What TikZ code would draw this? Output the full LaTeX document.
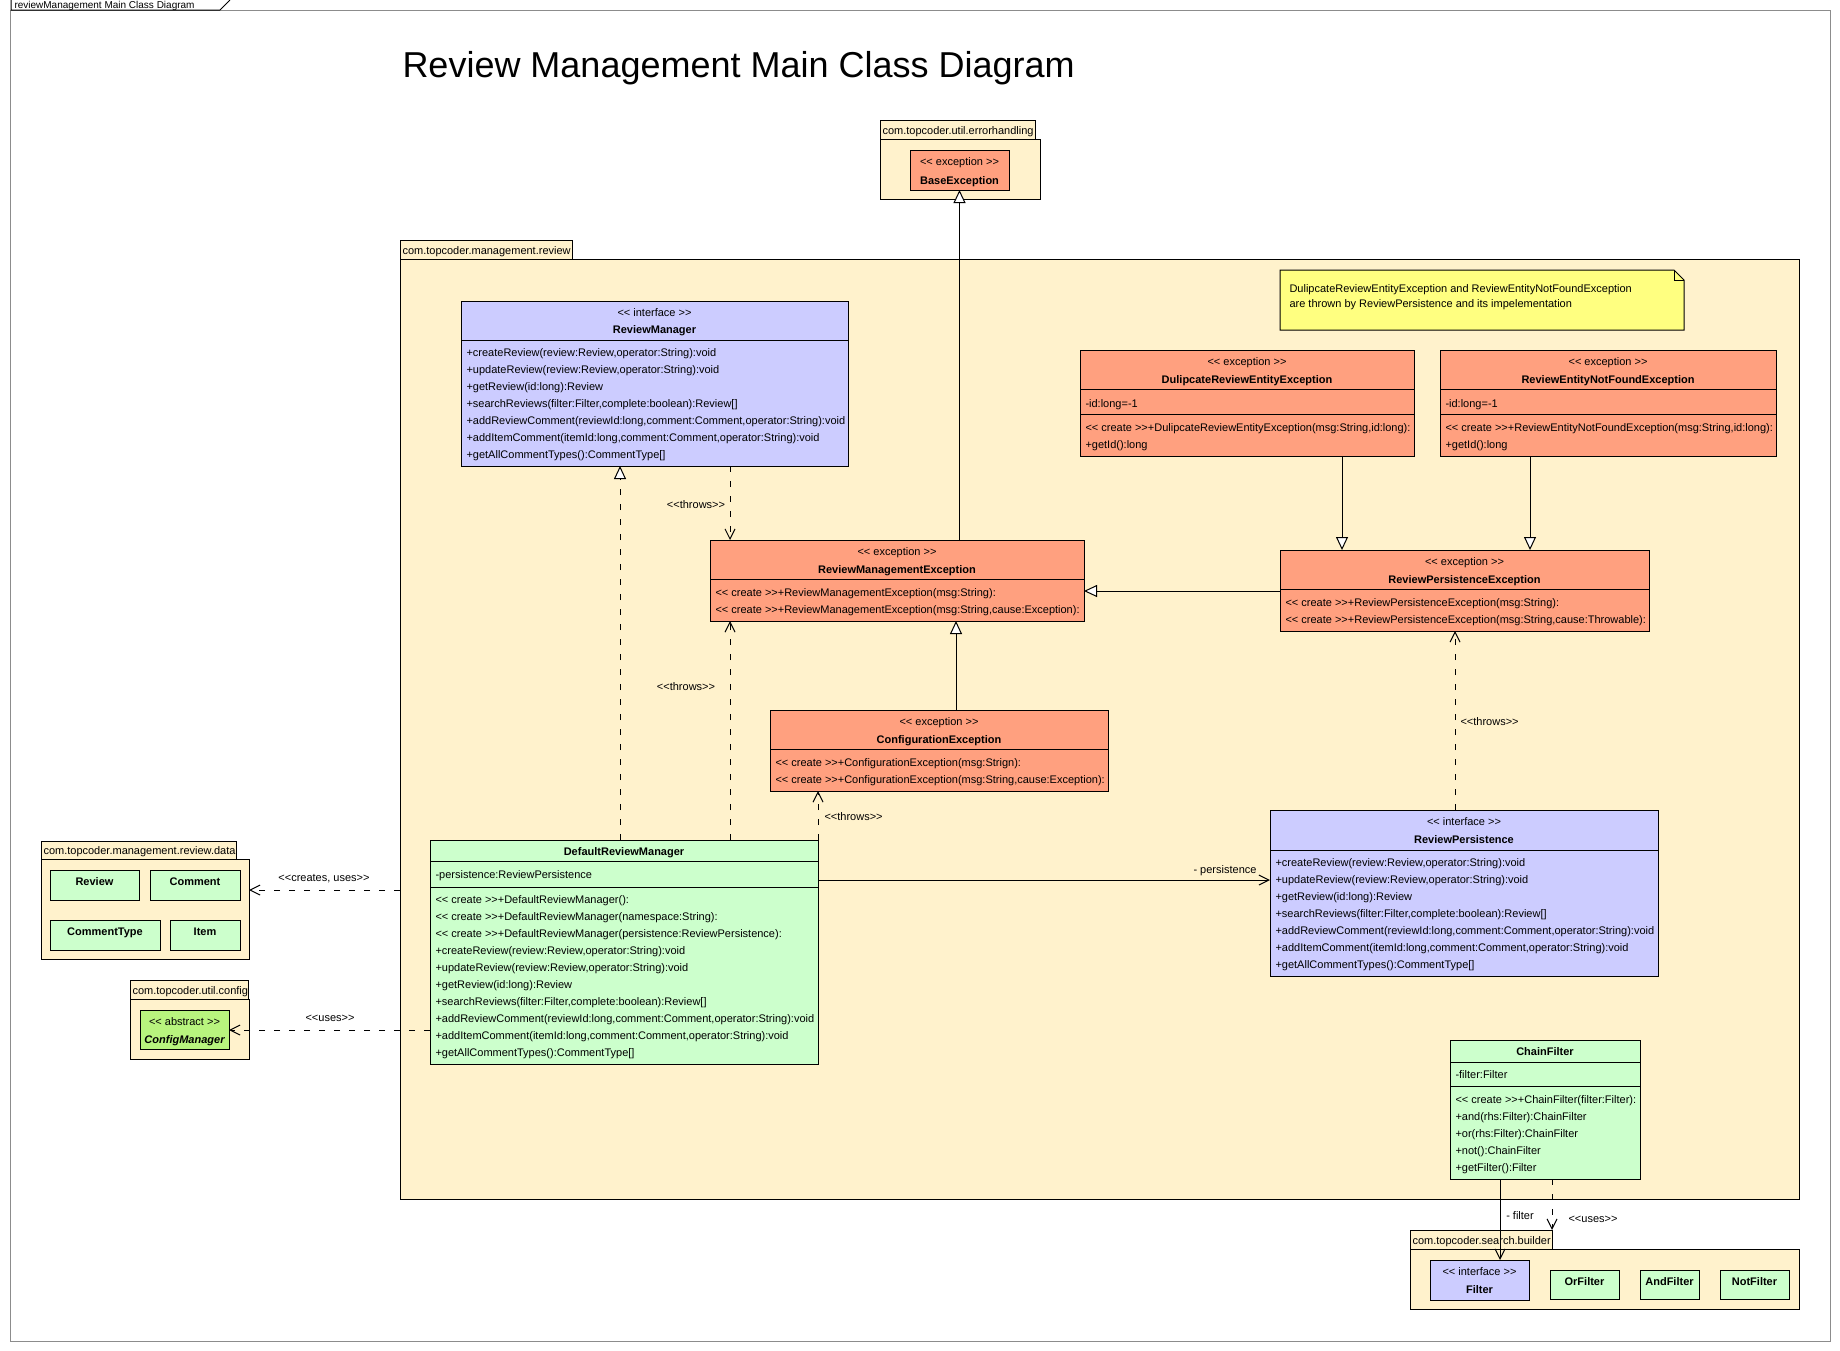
\documentclass[tikz,border=0pt]{standalone}
\usepackage{fontspec}
\setmainfont{Liberation Sans}
\usetikzlibrary{arrows.meta}
\definecolor{pkg}{HTML}{FFF2CC}
\definecolor{exc}{HTML}{FFA07F}
\definecolor{ifc}{HTML}{CCCCFF}
\definecolor{cls}{HTML}{CCFFCC}
\definecolor{absc}{HTML}{B8F47E}
\definecolor{notec}{HTML}{FFFF80}
\definecolor{frm}{HTML}{8C8C8C}
\newcommand\cf{\fontsize{8.25pt}{12.75pt}\selectfont}
\newcommand\stereo[1]{<\kern0pt<#1>\kern0pt>}
\newcommand\ubox[6]{\node[ubox, fill=#6, minimum width={(#4-#2)*0.75pt}, minimum height={(#5-#3)*0.75pt}] (#1) at (#2,#3) {};}
\newcommand\hdiv[3]{\draw (#1,#3) -- (#2,#3);}
\begin{document}
\begin{tikzpicture}[x=0.75pt,y=-0.75pt,line width=0.75pt,
  ubox/.style={draw=black, line width=0.75pt, inner sep=0pt, outer sep=0pt, anchor=north west},
  t/.style={font=\cf, inner sep=0pt, anchor=base},
  tb/.style={font=\cf\bfseries, inner sep=0pt, anchor=base},
  tl/.style={font=\cf, inner sep=0pt, anchor=base west},
  ops/.style={font=\cf, inner sep=0pt, anchor=north west, align=left},
  dashpat/.style={dash pattern=on 4.5pt off 6.75pt},
  gen/.style={-{Triangle[fill=white, length=9.75pt, width=9pt]}},
  real/.style={dashpat, gen},
  dep/.style={dashpat, -{Straight Barb[length=7.5pt, width=7.5pt]}},
  assoc/.style={-{Straight Barb[length=7.5pt, width=7.5pt]}},
  lbl/.style={font=\cf, inner sep=0pt, anchor=base}]
\useasboundingbox (0,0) rectangle (1840,1350);
\fill[white] (0,0) rectangle (1840,1350);
% frame
\draw[frm] (10,10) rectangle (1830,1341);
\draw[black] (11,0) -- (11,10) -- (220,10) -- (230,0);
\node[tl, font=\fontsize{7.5pt}{9pt}\selectfont] (framelbl) at (14,8) {reviewManagement Main Class Diagram};
% title
\node[font=\fontsize{27pt}{32pt}\selectfont, inner sep=0pt, anchor=base west] (title) at (402,77) {Review Management Main Class Diagram};

% errorhandling package
\ubox{peh}{880}{139}{1040}{199}{pkg}
\ubox{pehtab}{880}{120}{1035}{139}{pkg}
\node[tl] (pehl) at (882,134.5) {com.topcoder.util.errorhandling};
\ubox{be}{910}{150}{1009}{190}{exc}
\node[t] (bes) at (959.5,165.7) {\stereo{ exception }};
\node[tb] (ben) at (959.5,184) {BaseException};

% main package
\ubox{pmain}{400}{259}{1799}{1199}{pkg}
\ubox{pmaintab}{400}{240}{572}{259}{pkg}
\node[tl] (pmainl) at (402,254) {com.topcoder.management.review};

% note
\node[inner sep=0pt, outer sep=0pt, anchor=north west, minimum width={404*0.75pt}, minimum height={60*0.75pt}] (note) at (1280,270) {};
\draw[fill=notec] (note.north west) -- (1674,270) -- (1684,280) -- (note.south east) -- (note.south west) -- cycle;
\draw (1674,270) -- (1674,280) -- (1684,280);
\node[tl] (note1) at (1289,292) {DulipcateReviewEntityException and ReviewEntityNotFoundException};
\node[tl] (note2) at (1289,307) {are thrown by ReviewPersistence and its impelementation};

% ReviewManager
\ubox{rm}{461}{301}{848}{466}{ifc}
\hdiv{461}{848}{340}
\node[t] (rms) at (654.5,316) {\stereo{ interface }};
\node[tb] (rmn) at (654.5,333) {ReviewManager};
\node[ops] (rmo) at (466,344) {\strut +createReview(review:Review,operator:String):void\\
\strut +updateReview(review:Review,operator:String):void\\
\strut +getReview(id:long):Review\\
\strut +searchReviews(filter:Filter,complete:boolean):Review[]\\
\strut +addReviewComment(reviewId:long,comment:Comment,operator:String):void\\
\strut +addItemComment(itemId:long,comment:Comment,operator:String):void\\
\strut +getAllCommentTypes():CommentType[]};

% DulipcateReviewEntityException
\ubox{dre}{1080}{350}{1414}{456}{exc}
\hdiv{1080}{1414}{389}
\hdiv{1080}{1414}{414}
\node[t] (dres) at (1247,365) {\stereo{ exception }};
\node[tb] (dren) at (1247,383) {DulipcateReviewEntityException};
\node[tl] (drea) at (1085,407) {-id:long=-1};
\node[ops] (dreo) at (1085,419) {\strut \stereo{ create }+DulipcateReviewEntityException(msg:String,id:long):\\
\strut +getId():long};

% ReviewEntityNotFoundException
\ubox{renfe}{1440}{350}{1776}{456}{exc}
\hdiv{1440}{1776}{389}
\hdiv{1440}{1776}{414}
\node[t] (renfes) at (1608,365) {\stereo{ exception }};
\node[tb] (renfen) at (1608,383) {ReviewEntityNotFoundException};
\node[tl] (renfea) at (1445,407) {-id:long=-1};
\node[ops] (renfeo) at (1445,419) {\strut \stereo{ create }+ReviewEntityNotFoundException(msg:String,id:long):\\
\strut +getId():long};

% ReviewManagementException
\ubox{rme}{710}{540}{1084}{621}{exc}
\hdiv{710}{1084}{579}
\node[t] (rmes) at (897,555) {\stereo{ exception }};
\node[tb] (rmen) at (897,573) {ReviewManagementException};
\node[ops] (rmeo) at (715,584) {\strut \stereo{ create }+ReviewManagementException(msg:String):\\
\strut \stereo{ create }+ReviewManagementException(msg:String,cause:Exception):};

% ReviewPersistenceException
\ubox{rpe}{1280}{550}{1649}{631}{exc}
\hdiv{1280}{1649}{589}
\node[t] (rpes) at (1464.5,565) {\stereo{ exception }};
\node[tb] (rpen) at (1464.5,583) {ReviewPersistenceException};
\node[ops] (rpeo) at (1285,594) {\strut \stereo{ create }+ReviewPersistenceException(msg:String):\\
\strut \stereo{ create }+ReviewPersistenceException(msg:String,cause:Throwable):};

% ConfigurationException
\ubox{ce}{770}{710}{1108}{791}{exc}
\hdiv{770}{1108}{749}
\node[t] (ces) at (939,725) {\stereo{ exception }};
\node[tb] (cen) at (939,743) {ConfigurationException};
\node[ops] (ceo) at (775,754) {\strut \stereo{ create }+ConfigurationException(msg:Strign):\\
\strut \stereo{ create }+ConfigurationException(msg:String,cause:Exception):};

% DefaultReviewManager
\ubox{drm}{430}{840}{818}{1064}{cls}
\hdiv{430}{818}{861}
\hdiv{430}{818}{887}
\node[tb] (drmn) at (624,855) {DefaultReviewManager};
\node[tl] (drma) at (435,878) {-persistence:ReviewPersistence};
\node[ops] (drmo) at (435,891) {\strut \stereo{ create }+DefaultReviewManager():\\
\strut \stereo{ create }+DefaultReviewManager(namespace:String):\\
\strut \stereo{ create }+DefaultReviewManager(persistence:ReviewPersistence):\\
\strut +createReview(review:Review,operator:String):void\\
\strut +updateReview(review:Review,operator:String):void\\
\strut +getReview(id:long):Review\\
\strut +searchReviews(filter:Filter,complete:boolean):Review[]\\
\strut +addReviewComment(reviewId:long,comment:Comment,operator:String):void\\
\strut +addItemComment(itemId:long,comment:Comment,operator:String):void\\
\strut +getAllCommentTypes():CommentType[]};

% ReviewPersistence
\ubox{rp}{1270}{810}{1658}{976}{ifc}
\hdiv{1270}{1658}{850}
\node[t] (rps) at (1464,825) {\stereo{ interface }};
\node[tb] (rpn) at (1464,843) {ReviewPersistence};
\node[ops] (rpo) at (1275,854) {\strut +createReview(review:Review,operator:String):void\\
\strut +updateReview(review:Review,operator:String):void\\
\strut +getReview(id:long):Review\\
\strut +searchReviews(filter:Filter,complete:boolean):Review[]\\
\strut +addReviewComment(reviewId:long,comment:Comment,operator:String):void\\
\strut +addItemComment(itemId:long,comment:Comment,operator:String):void\\
\strut +getAllCommentTypes():CommentType[]};

% ChainFilter
\ubox{cf}{1450}{1040}{1640}{1179}{cls}
\hdiv{1450}{1640}{1062}
\hdiv{1450}{1640}{1086}
\node[tb] (cfn) at (1545,1055) {ChainFilter};
\node[tl] (cfa) at (1455,1078) {-filter:Filter};
\node[ops] (cfo) at (1455,1091) {\strut \stereo{ create }+ChainFilter(filter:Filter):\\
\strut +and(rhs:Filter):ChainFilter\\
\strut +or(rhs:Filter):ChainFilter\\
\strut +not():ChainFilter\\
\strut +getFilter():Filter};

% data package
\ubox{pdata}{41}{859}{249}{959}{pkg}
\ubox{pdatatab}{41}{841}{236}{859}{pkg}
\node[tl] (pdatal) at (43,854) {com.topcoder.management.review.data};
\ubox{review}{50}{870}{139}{900}{cls}
\node[tb] (reviewn) at (94.5,885) {Review};
\ubox{comment}{150}{870}{240}{900}{cls}
\node[tb] (commentn) at (195,885) {Comment};
\ubox{ctype}{50}{920}{160}{950}{cls}
\node[tb] (ctypen) at (105,935) {CommentType};
\ubox{item}{170}{920}{240}{950}{cls}
\node[tb] (itemn) at (205,935) {Item};

% config package
\ubox{pcfg}{130}{999}{249}{1059}{pkg}
\ubox{pcfgtab}{130}{980}{248}{999}{pkg}
\node[tl] (pcfgl) at (132,994) {com.topcoder.util.config};
\ubox{cm}{140}{1010}{229}{1049}{absc}
\node[t] (cms) at (184.5,1025) {\stereo{ abstract }};
\node[tb, font=\cf\bfseries\itshape] (cmn) at (184.5,1043) {ConfigManager};

% search builder package
\ubox{psb}{1410}{1249}{1799}{1309}{pkg}
\ubox{psbtab}{1410}{1230}{1552}{1249}{pkg}
\node[tl] (psbl) at (1412,1244) {com.topcoder.search.builder};
\ubox{filter}{1430}{1260}{1529}{1300}{ifc}
\node[t] (filters) at (1479.5,1275) {\stereo{ interface }};
\node[tb] (filtern) at (1479.5,1293) {Filter};
\ubox{orf}{1550}{1270}{1619}{1299}{cls}
\node[tb] (orfn) at (1584.5,1285) {OrFilter};
\ubox{andf}{1640}{1270}{1699}{1299}{cls}
\node[tb] (andfn) at (1669.5,1285) {AndFilter};
\ubox{notf}{1720}{1270}{1789}{1299}{cls}
\node[tb] (notfn) at (1754.5,1285) {NotFilter};

% helper coordinates
\coordinate (x620) at (620,0);
\coordinate (x730) at (730,0);
\coordinate (x956) at (956,0);
\coordinate (x1342) at (1342,0);
\coordinate (x1530) at (1530,0);
\coordinate (x1455) at (1455,0);
\coordinate (x1500) at (1500,0);
\coordinate (y591) at (0,591);
\coordinate (y880) at (0,880);
\coordinate (y890) at (0,890);
\coordinate (y1030) at (0,1030);

% connectors
\draw[gen] (rme.north -| be.south) -- (be.south);
\draw[gen] (ce.north -| x956) -- (rme.south -| x956);
\draw[gen] (rpe.west |- y591) -- (rme.east |- y591);
\draw[gen] (dre.south -| x1342) -- (rpe.north -| x1342);
\draw[gen] (renfe.south -| x1530) -- (rpe.north -| x1530);
\draw[real] (drm.north -| x620) -- (rm.south -| x620);
\draw[dep] (rm.south -| x730) -- (rme.north -| x730);
\draw[dep] (drm.north -| x730) -- (rme.south -| x730);
\draw[dep] (drm.north east) -- (ce.south -| drm.north east);
\draw[dep] (rp.north -| x1455) -- (rpe.south -| x1455);
\draw[assoc] (drm.east |- y880) -- (rp.west |- y880);
\draw[dep] (pmain.west |- y890) -- (pdata.east |- y890);
\draw[dep] (drm.west |- y1030) -- (cm.east |- y1030);
\draw[assoc] (cf.south -| x1500) -- (filter.north -| x1500);
\draw[dep] (cf.south -| psbtab.north east) -- (psbtab.north east);

% connector labels
\node[lbl] (l1) at (696,508) {\stereo{throws}};
\node[lbl] (l2) at (686,690) {\stereo{throws}};
\node[lbl, anchor=base west] (l3) at (824,820) {\stereo{throws}};
\node[lbl, anchor=base west] (l4) at (1460,725) {\stereo{throws}};
\node[lbl] (l5) at (324,881) {\stereo{creates, uses}};
\node[lbl] (l6) at (330,1021) {\stereo{uses}};
\node[lbl] (l7) at (1225,873) {- persistence};
\node[lbl] (l8) at (1520,1219) {- filter};
\node[lbl] (l9) at (1593,1222) {\stereo{uses}};
\end{tikzpicture}
\end{document}
